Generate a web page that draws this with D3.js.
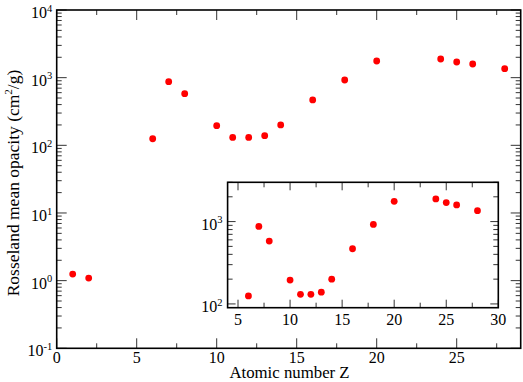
<!DOCTYPE html>
<html><head><meta charset="utf-8">
<script src="https://cdn.jsdelivr.net/npm/d3@7"></script>
</head>
<body style="margin:0;background:#fff">
<svg id="c" width="523" height="382"></svg>
<script>
// Data
const atomicZ  = [1, 2, 6, 7, 8, 10, 11, 12, 13, 14, 16, 18, 20, 24, 25, 26, 28];
const opacity  = [1.25, 1.09, 125, 873, 580, 195, 131, 131, 139, 200, 468, 923, 1763, 1887, 1703, 1592, 1357];
const mainXTicks = [0, 5, 10, 15, 20, 25];
const mainXMinor = [2.5, 7.5, 12.5, 17.5, 22.5, 27.5];
const mainYExp = [-1, 0, 1, 2, 3, 4];
const insetXTicks = [5, 10, 15, 20, 25, 30];
const insetXMinor = [7.5, 12.5, 17.5, 22.5, 27.5];
const insetYExp = [2, 3];
const insetMinZ = 6;

const FONT = "'Liberation Serif'";
const svg = d3.select("#c");
const pts = atomicZ.map((z, i) => ({z, v: opacity[i]}));

function logMinor(lo, hi) {
  const out = [];
  for (let e = lo; e < hi; e++) for (let m = 2; m <= 9; m++) out.push(m * Math.pow(10, e));
  return out;
}
function supLabel(sel, dy) {
  sel.each(function(d) {
    const t = d3.select(this);
    const e = Math.round(Math.log10(d));
    t.text(null).attr("dy", dy);
    t.append("tspan").style("font-family", FONT).text("10");
    t.append("tspan").style("font-family", FONT).style("font-size", "10.5px").attr("dy", "-0.6em").text(e);
  });
}

function panel(g, x, y, o) {
  const [x0, x1] = x.range(), [y0, y1] = y.range();
  g.append("rect").attr("x", x0).attr("y", y1).attr("width", x1 - x0).attr("height", y0 - y1).attr("fill", "#fff");
  const mk = (axis, tr, vals, len) => {
    const a = g.append("g").attr("transform", tr)
      .call(axis.tickValues(vals).tickSize(-len).tickFormat("").offset(0));
    a.select(".domain").remove();
    a.selectAll("line").attr("stroke", "#333").attr("stroke-width", 1);
    return a;
  };
  // minor ticks
  mk(d3.axisBottom(x), `translate(0,${y0})`, o.xMinor, o.minor);
  mk(d3.axisTop(x), `translate(0,${y1})`, o.xMinor, o.minor);
  mk(d3.axisLeft(y), `translate(${x0},0)`, o.yMinor, o.minor);
  mk(d3.axisRight(y), `translate(${x1},0)`, o.yMinor, o.minor);
  // major ticks
  mk(d3.axisTop(x), `translate(0,${y1})`, o.xTicks, o.major);
  mk(d3.axisRight(y), `translate(${x1},0)`, o.yTicks, o.major);
  const bx = g.append("g").attr("transform", `translate(0,${y0})`)
    .call(d3.axisBottom(x).tickValues(o.xTicks).tickSize(-o.major).tickPadding(o.xPad).offset(0).tickFormat(d3.format("d")));
  const ly = g.append("g").attr("transform", `translate(${x0},0)`)
    .call(d3.axisLeft(y).tickValues(o.yTicks).tickSize(-o.major).tickPadding(o.yPad).offset(0));
  [bx, ly].forEach(a => {
    a.attr("font-family", FONT).attr("font-size", null);
    a.select(".domain").remove();
    a.selectAll("line").attr("stroke", "#333").attr("stroke-width", 1);
    a.selectAll("text").attr("fill", "#000").style("font-family", FONT).style("font-size", "16px");
  });
  supLabel(ly.selectAll(".tick text"), "0.5em");
  g.append("rect").attr("x", x0).attr("y", y1).attr("width", x1 - x0).attr("height", y0 - y1)
    .attr("fill", "none").attr("stroke", "#000").attr("stroke-width", 1.6);
  g.selectAll("circle.pt").data(o.data).join("circle").attr("class", "pt")
    .attr("cx", d => x(d.z)).attr("cy", d => y(d.v)).attr("r", 3.4).attr("fill", "#ff0000");
}

// Main plot
const xMain = d3.scaleLinear().domain([0, 29]).range([56.7, 520.7]);
const yMain = d3.scaleLog().domain([0.1, 10000]).range([348.3, 10]);
panel(svg.append("g"), xMain, yMain, {
  xTicks: mainXTicks, xMinor: mainXMinor,
  yTicks: mainYExp.map(e => Math.pow(10, e)), yMinor: logMinor(-1, 4),
  major: 10, minor: 5, xPad: 3.8, yPad: 4.5, data: pts
});

// Axis titles
svg.append("text").attr("x", 289.5).attr("y", 378.3).attr("text-anchor", "middle")
  .style("font-family", FONT).style("font-size", "16.8px").text("Atomic number Z");
const yl = svg.append("text").attr("transform", "translate(18.5,183) rotate(-90)")
  .attr("text-anchor", "middle").style("font-family", FONT).style("font-size", "17.5px");
yl.append("tspan").style("font-family", FONT).text("Rosseland mean opacity (cm");
yl.append("tspan").style("font-family", FONT).style("font-size", "11px").attr("dy", "-0.6em").text("2");
yl.append("tspan").style("font-family", FONT).attr("dy", "0.38em").text("/g)");

// Inset
const xIn = d3.scaleLinear().domain([4, 30]).range([227.6, 498.3]);
const yIn = d3.scaleLog().domain([90, 3000]).range([307.7, 182.3]);
panel(svg.append("g"), xIn, yIn, {
  xTicks: insetXTicks, xMinor: insetXMinor,
  yTicks: insetYExp.map(e => Math.pow(10, e)), yMinor: logMinor(2, 4).filter(v => v <= 3000),
  major: 8, minor: 5, xPad: 6, yPad: 5, data: pts.filter(d => d.z >= insetMinZ)
});
</script>
</body></html>
